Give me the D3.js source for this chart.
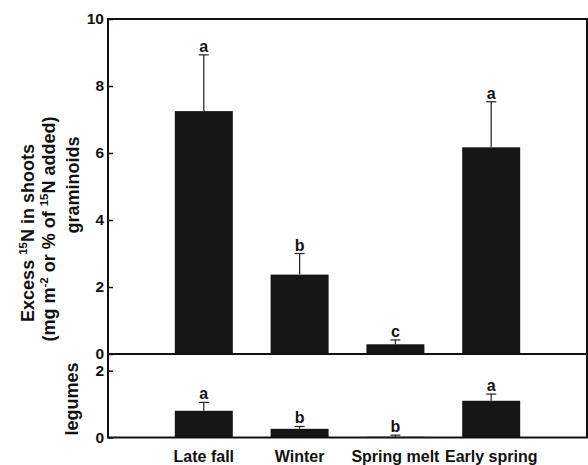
<!DOCTYPE html>
<html>
<head>
<meta charset="utf-8">
<script src="https://cdn.jsdelivr.net/npm/d3@7"></script>
<style>
body { margin: 0; background: #fff; }
text { font-family: "Liberation Sans", Arial, sans-serif; font-weight: bold; fill: #111; }
</style>
</head>
<body>
<script>
var categories = ["Late fall", "Winter", "Spring melt", "Early spring"];
var graminoids = [7.25, 2.37, 0.29, 6.17];
var graminoidsErr = [1.68, 0.63, 0.13, 1.36];
var graminoidsLetters = ["a", "b", "c", "a"];
var legumes = [0.8, 0.26, 0.02, 1.1];
var legumesErr = [0.25, 0.07, 0.05, 0.2];
var legumesLetters = ["a", "b", "b", "a"];
var topTicks = [0, 2, 4, 6, 8, 10];
var bottomTicks = [0, 2];

var width = 588, height = 465;
var left = 108, right = 587;
var barWidth = 58;

var svg = d3.select("body").append("svg").attr("width", width).attr("height", height);

var x = d3.scalePoint().domain(categories).range([left, right]).padding(1);
var yTop = d3.scaleLinear().domain([0, 10]).range([354, 19]);
var yBot = d3.scaleLinear().domain([0, 2.5]).range([437.5, 354]);

function panel(y, values, errs, letters, ticks) {
    var g = svg.append("g");
    // bars
    g.selectAll("rect.bar").data(values).enter().append("rect")
        .attr("class", "bar")
        .attr("x", function (d, i) { return x(categories[i]) - barWidth / 2; })
        .attr("y", function (d) { return y(d); })
        .attr("width", barWidth)
        .attr("height", function (d) { return y(0) - y(d); })
        .attr("fill", "#151515");
    // error bars
    g.selectAll("line.err").data(values).enter().append("line")
        .attr("x1", function (d, i) { return x(categories[i]); })
        .attr("x2", function (d, i) { return x(categories[i]); })
        .attr("y1", function (d) { return y(d); })
        .attr("y2", function (d, i) { return y(d + errs[i]); })
        .attr("stroke", "#222").attr("stroke-width", 1.2);
    g.selectAll("line.cap").data(values).enter().append("line")
        .attr("x1", function (d, i) { return x(categories[i]) - 5; })
        .attr("x2", function (d, i) { return x(categories[i]) + 5; })
        .attr("y1", function (d, i) { return y(d + errs[i]); })
        .attr("y2", function (d, i) { return y(d + errs[i]); })
        .attr("stroke", "#222").attr("stroke-width", 1.2);
    // letters
    g.selectAll("text.let").data(letters).enter().append("text")
        .attr("x", function (d, i) { return x(categories[i]); })
        .attr("y", function (d, i) { return y(values[i] + errs[i]) - 3; })
        .attr("text-anchor", "middle")
        .attr("font-size", 16)
        .text(function (d) { return d; });
    // axis
    var axis = d3.axisLeft(y).tickValues(ticks).tickFormat(d3.format("d"))
        .tickSizeInner(-5).tickSizeOuter(0).tickPadding(4);
    var ax = g.append("g").attr("transform", "translate(" + left + ",0)").call(axis);
    ax.select(".domain").remove();
    ax.selectAll(".tick line").attr("stroke", "#111").attr("stroke-width", 1.5);
    ax.selectAll(".tick text").attr("font-size", 15.5).attr("font-family", "Liberation Sans, Arial, sans-serif")
        .attr("font-weight", "bold").attr("fill", "#111");
    // frame
    g.append("rect")
        .attr("x", left).attr("y", y.range()[1])
        .attr("width", right - left).attr("height", y.range()[0] - y.range()[1])
        .attr("fill", "none").attr("stroke", "#111").attr("stroke-width", 2);
}

panel(yTop, graminoids, graminoidsErr, graminoidsLetters, topTicks);
panel(yBot, legumes, legumesErr, legumesLetters, bottomTicks);

// category labels
svg.selectAll("text.cat").data(categories).enter().append("text")
    .attr("x", function (d) { return x(d); })
    .attr("y", 462)
    .attr("text-anchor", "middle")
    .attr("font-size", 16)
    .text(function (d) { return d; });

// y labels
function vlabel(cx, cy, parts) {
    var t = svg.append("text")
        .attr("transform", "translate(" + cx + "," + cy + ") rotate(-90)")
        .attr("text-anchor", "middle")
        .attr("font-size", 18);
    parts.forEach(function (p) {
        var ts = t.append("tspan").text(p[0]);
        if (p[1] == "sup") ts.attr("font-size", 11.5).attr("dy", -7);
        else if (p[1] == "after") ts.attr("dy", 7);
    });
}
vlabel(34, 233, [["Excess ", ""], ["15", "sup"], ["N in shoots", "after"]]);
vlabel(55, 229, [["(mg m", ""], ["-2", "sup"], [" or % of ", "after"], ["15", "sup"], ["N added)", "after"]]);
vlabel(79, 185, [["graminoids", ""]]);
vlabel(78, 399, [["legumes", ""]]);
</script>
</body>
</html>
